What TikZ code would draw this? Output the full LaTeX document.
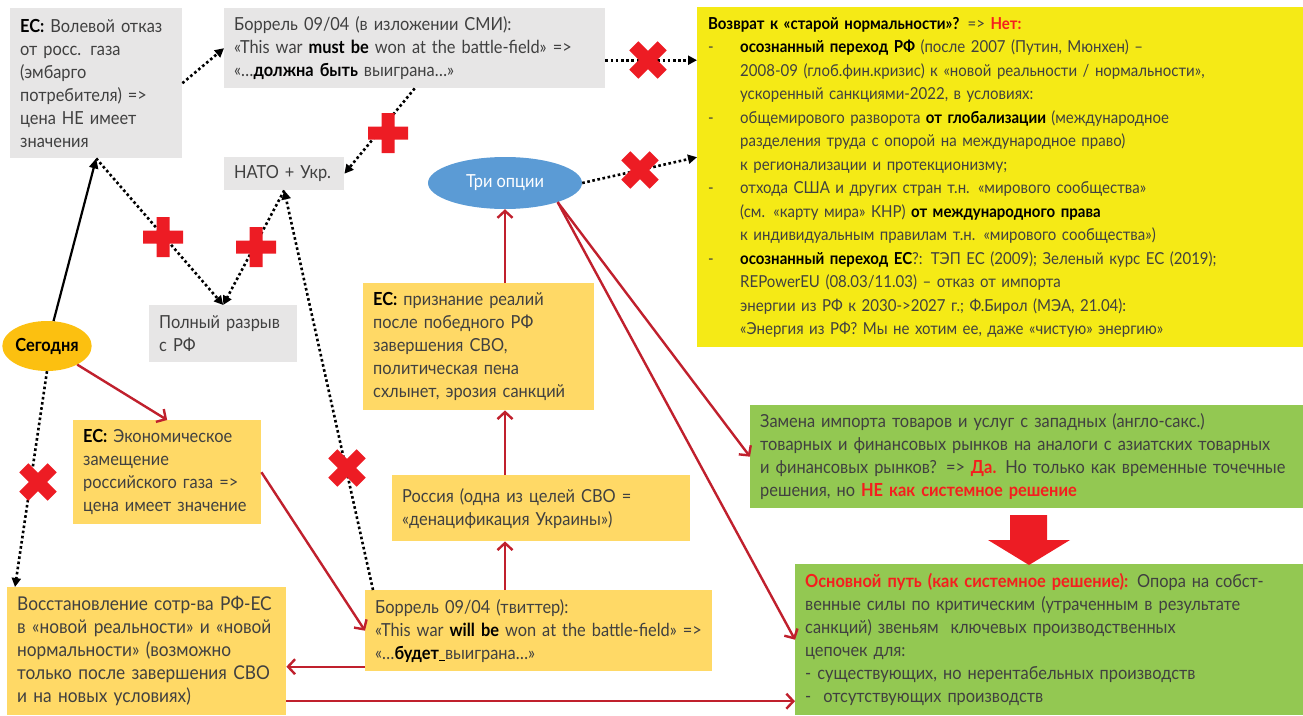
\documentclass[tikz,border=0pt]{standalone}
\usepackage{fontspec}
\setmainfont{Lato}[FakeStretch=0.91]
\usepackage{tikz}
\definecolor{boxgrey}{RGB}{231,230,230}
\definecolor{boxamber}{RGB}{255,217,102}
\definecolor{boxyellow}{RGB}{245,234,22}
\definecolor{boxgreen}{RGB}{147,200,82}
\definecolor{todayfill}{RGB}{252,192,16}
\definecolor{optblue}{RGB}{91,155,213}
\definecolor{linkred}{RGB}{192,32,45}
\definecolor{crossred}{RGB}{237,28,36}
\definecolor{alertred}{RGB}{245,30,30}
\definecolor{textgrey}{RGB}{64,64,64}
\usetikzlibrary{arrows.meta, positioning, calc, shapes.geometric}
\newcommand{\kw}[1]{\textcolor{black}{\textbf{#1}}}
\newcommand{\rd}[1]{\textcolor{alertred}{\textbf{#1}}}
\newcommand{\dashitem}{\makebox[32pt][l]{-}}
\newcommand{\indentline}{\hspace*{32pt}}
\newcommand{\redcross}[2]{\fill[crossred, shift={#1}, rotate=#2] (-20,-6.5) rectangle (20,6.5) (-6.5,-20) rectangle (6.5,20);}

\begin{document}
\begin{tikzpicture}[
    x=1pt, y=-1pt,
    greybox/.style={rectangle, fill=boxgrey, anchor=north west, align=left, inner xsep=10pt, inner ysep=4pt, text=textgrey, font=\fontsize{18}{23}\selectfont},
    amberbox/.style={greybox, fill=boxamber},
    greenbox/.style={greybox, fill=boxgreen},
    yellowbox/.style={greybox, fill=boxyellow, inner xsep=11pt, font=\fontsize{16.5}{23.5}\selectfont},
    oval/.style={ellipse, inner sep=0pt, font=\fontsize{18}{23}\selectfont},
    dotlink/.style={black, line width=2.6pt, dash pattern=on 2.6pt off 2.6pt, -{Triangle[length=9pt,width=9pt]}},
    solidlink/.style={black, line width=2.2pt, -{Triangle[length=10pt,width=9pt]}},
    redlink/.style={linkred, line width=2.4pt, -{Straight Barb[length=7pt,width=15pt,line width=2.4pt]}}
]
    \useasboundingbox (0,0) rectangle (1303,715);

    % grey boxes
    \node[greybox, text width=152pt, minimum height=150pt] (refusal) at (10,8) {\kw{ЕС:} Волевой отказ\\ от росс. газа\\ (эмбарго\\ потребителя) =>\\ цена НЕ имеет\\ значения};
    \node[greybox, text width=361pt, minimum height=80pt] (mustbe) at (224,8) {Боррель 09/04 (в изложении СМИ):\\ «This war \kw{must be} won at the battle-field» =>\\ «…\kw{должна быть} выиграна…»};
    \node[greybox, text width=100pt, minimum height=33pt] (nato) at (224,157) {НАТО + Укр.};
    \node[greybox, text width=128pt, minimum height=57pt] (rupture) at (149,305) {Полный разрыв\\ с РФ};

    % ovals
    \node[oval, fill=todayfill, minimum width=80pt, minimum height=50pt] (today) at (47,346) {\textbf{Сегодня}};
    \node[oval, fill=optblue, text=white, minimum width=154pt, minimum height=52pt] (options) at (505,183) {Три опции};

    % amber boxes
    \node[amberbox, text width=211pt, minimum height=127pt] (recognition) at (363,283) {\kw{ЕС:} признание реалий\\ после победного РФ\\ завершения СВО,\\ политическая пена\\ схлынет, эрозия санкций};
    \node[amberbox, text width=278pt, minimum height=66pt] (russia) at (392,475) {Россия (одна из целей СВО =\\ «денацификация Украины»)};
    \node[amberbox, text width=168pt, minimum height=104pt] (substitution) at (73,420) {\kw{ЕС:} Экономическое\\ замещение\\ российского газа =>\\ цена имеет значение};
    \node[amberbox, text width=327pt, minimum height=81pt] (willbe) at (365,590) {Боррель 09/04 (твиттер):\\ «This war \kw{will be} won at the battle-field» =>\\ «…\kw{будет\underline{\ }}выиграна…»};
    \node[amberbox, text width=259pt, minimum height=128pt, font=\fontsize{19}{23}\selectfont] (restore) at (7,587) {Восстановление сотр-ва РФ-ЕС\\ в «новой реальности» и «новой\\ нормальности» (возможно\\ только после завершения СВО\\ и на новых условиях)};

    % yellow box
    \node[yellowbox, text width=584pt, minimum height=340pt] (normal) at (697,7) {\kw{Возврат к «старой нормальности»?} => \rd{Нет:}\\
        \dashitem\kw{осознанный переход РФ} (после 2007 (Путин, Мюнхен) –\\
        \indentline 2008-09 (глоб.фин.кризис) к «новой реальности / нормальности»,\\
        \indentline ускоренный санкциями-2022, в условиях:\\
        \dashitem общемирового разворота \kw{от глобализации} (международное\\
        \indentline разделения труда с опорой на международное право)\\
        \indentline к регионализации и протекционизму;\\
        \dashitem отхода США и других стран т.н. «мирового сообщества»\\
        \indentline (см. «карту мира» КНР) \kw{от международного права}\\
        \indentline к индивидуальным правилам т.н. «мирового сообщества»)\\
        \dashitem\kw{осознанный переход ЕС}?: ТЭП ЕС (2009); Зеленый курс ЕС (2019);\\
        \indentline REPowerEU (08.03/11.03) – отказ от импорта\\
        \indentline энергии из РФ к 2030->2027 г.; Ф.Бирол (МЭА, 21.04):\\
        \indentline «Энергия из РФ? Мы не хотим ее, даже «чистую» энергию»};

    % green boxes
    \node[greenbox, text width=533pt, minimum height=103pt] (imports) at (750,405) {Замена импорта товаров и услуг с западных (англо-сакс.)\\ товарных и финансовых рынков на аналоги с азиатских товарных\\ и финансовых рынков? => \rd{Да.} Но только как временные точечные\\ решения, но \rd{НЕ как системное решение}};
    \node[greenbox, text width=488pt, minimum height=151pt] (mainpath) at (795,564) {\rd{Основной путь (как системное решение):} Опора на собст-\\ венные силы по критическим (утраченным в результате\\ санкций) звеньям\ \ ключевых производственных\\ цепочек для:\\ - существующих, но нерентабельных производств\\ -\ \ отсутствующих производств};

    \fill[crossred] (1010,515) -- (1047,515) -- (1047,540) -- (1070,540) -- (1029,565) -- (988,540) -- (1010,540) -- cycle;

    % dotted links
    \draw[solidlink] (today) -- (refusal.south);
    \draw[dotlink] (refusal.east) -- (mustbe.west);
    \draw[dotlink] (refusal.south) -- (rupture.north);
    \draw[dotlink] (nato.south) -- (rupture.north);
    \draw[dotlink] ([xshift=8pt]willbe.north west) -- (nato.south);
    \draw[dotlink] (mustbe.south) -- (nato.east);
    \draw[dotlink] ([yshift=-12pt]mustbe.east) coordinate (m1) -- (m1 -| normal.west);
    \draw[dotlink] (options.east) -- ([yshift=20pt]normal.west);
    \draw[dotlink] (today.south) -- ([xshift=8pt]restore.north west);

    % red links
    \draw[redlink] (today) -- (substitution.north);
    \draw[redlink] (substitution.east) -- (willbe.west);
    \draw[redlink] ([yshift=-36pt]willbe.west) coordinate (w1) -- (w1 -| restore.east);
    \draw[redlink] ([yshift=-50pt]restore.east) coordinate (r1) -- (r1 -| mainpath.west);
    \draw[redlink] (willbe.north -| options) -- (russia.south -| options);
    \draw[redlink] (russia.north -| options) -- (recognition.south -| options);
    \draw[redlink] (recognition.north -| options) -- (options.south);
    \draw[redlink] (options.-20) -- (imports.west);
    \draw[redlink] (options.-20) -- (mainpath.west);

    % crosses
    \redcross{(163,237)}{0}
    \redcross{(256,247)}{0}
    \redcross{(388,133)}{0}
    \redcross{(648,60)}{45}
    \redcross{(640,170)}{45}
    \redcross{(38,482)}{45}
    \redcross{(347,468)}{45}
\end{tikzpicture}
\end{document}
